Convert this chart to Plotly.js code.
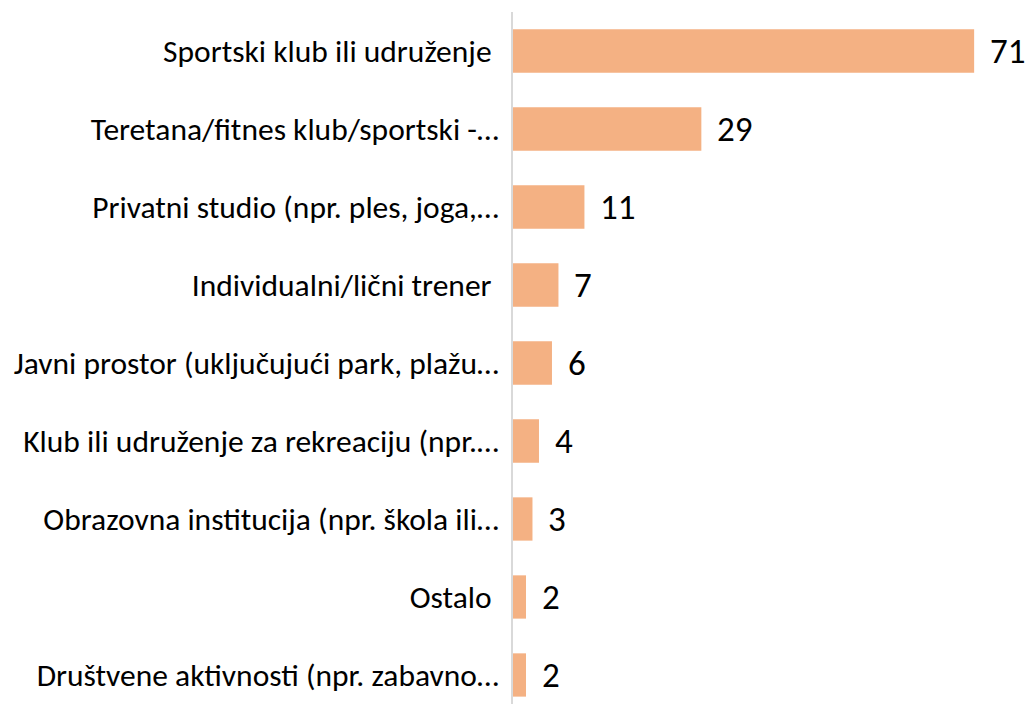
<!DOCTYPE html>
<html>
<head>
<meta charset="utf-8">
<script src="https://cdn.plot.ly/plotly-3.0.1.min.js"></script>
<style>html,body{margin:0;padding:0;background:#fff;}#chart{width:1030px;height:704px;}</style>
</head>
<body>
<div id="chart"></div>
<script>
const categories = [
  "Sportski klub ili udruženje\u00a0",
  "Teretana/fitnes klub/sportski -…",
  "Privatni studio (npr. ples, joga,…",
  "Individualni/lični trener\u00a0",
  "Javni prostor (uključujući park, plažu…",
  "Klub ili udruženje za rekreaciju (npr.…",
  "Obrazovna institucija (npr. škola ili…",
  "Ostalo\u00a0",
  "Društvene aktivnosti (npr. zabavno…"
];
const values = [71, 29, 11, 7, 6, 4, 3, 2, 2];

const FONT = "Carlito, Calibri, Lato, sans-serif";

const trace = {
  type: "bar",
  orientation: "h",
  x: values,
  y: categories,
  width: 0.555,
  marker: {color: "#F4B183"},
  hoverinfo: "none"
};

const annotations = values.map((v, i) => ({
  x: v, y: categories[i], xref: "x", yref: "y",
  text: String(v), showarrow: false,
  xanchor: "left", yanchor: "middle", xshift: 14,
  font: {family: FONT, size: 35, color: "#000"}
}));

const layout = {
  width: 1030, height: 704,
  margin: {l: 513, r: 0, t: 12, b: 0, pad: 0},
  paper_bgcolor: "#fff", plot_bgcolor: "#fff",
  showlegend: false,
  font: {family: FONT, color: "#000"},
  xaxis: {range: [0, 79.6], visible: false, fixedrange: true},
  yaxis: {
    type: "category",
    categoryorder: "array", categoryarray: categories,
    range: [8.372, -0.5],
    showline: true, linecolor: "#D9D9D9", linewidth: 2,
    showgrid: false, zeroline: false,
    ticks: "", ticklabelstandoff: 6,
    tickfont: {family: FONT, size: 31.5, color: "#000"},
    fixedrange: true
  },
  annotations: annotations
};

Plotly.newPlot("chart", [trace], layout, {displayModeBar: false, staticPlot: true});
</script>
</body>
</html>
